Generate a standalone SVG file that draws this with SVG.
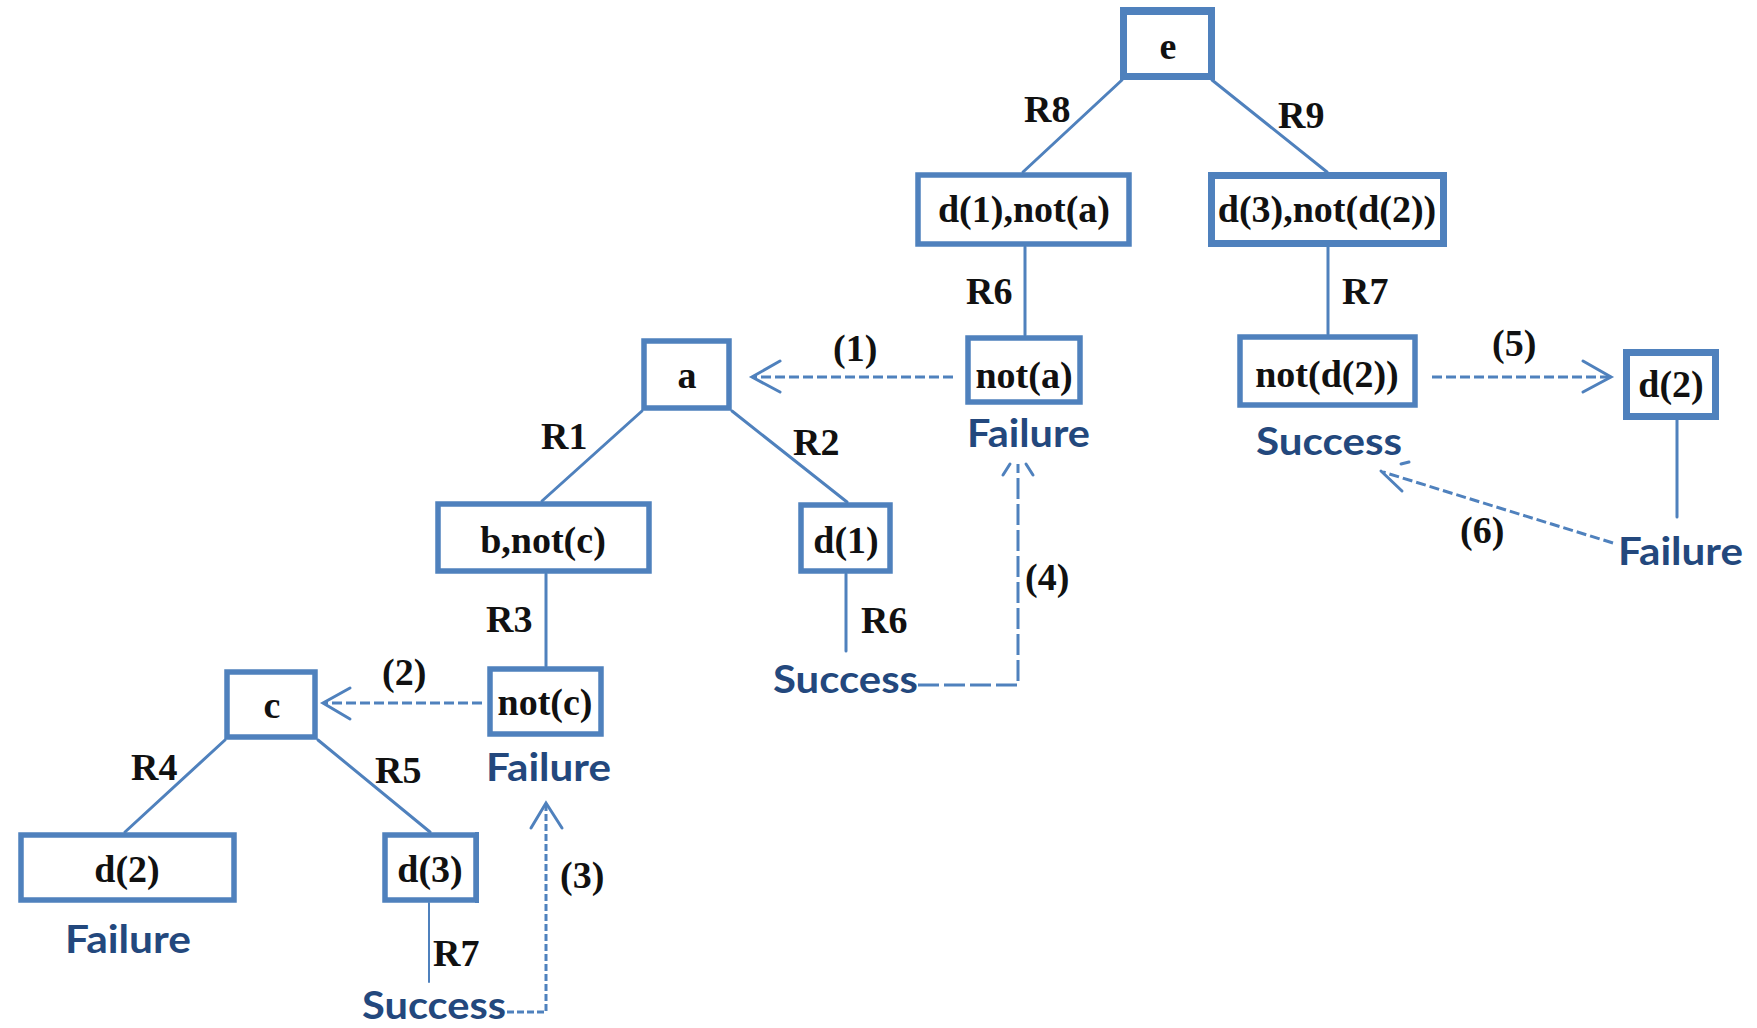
<svg xmlns="http://www.w3.org/2000/svg" width="1757" height="1028" viewBox="0 0 1757 1028">
  <style>
    .box { fill: #ffffff; stroke: #4f81bd; stroke-width: 5.5; }
    .box.thick { stroke-width: 7; }
    .t { font-family: "Liberation Serif", "Times New Roman", serif; font-weight: bold; font-size: 38px; fill: #111111; }
    .c { text-anchor: middle; }
    .res { font-family: Lato, "Open Sans", "Liberation Sans", sans-serif; font-weight: bold; font-size: 39px; fill: #23487d; }
    .edge { fill: none; stroke: #4f81bd; stroke-width: 3; stroke-linecap: round; }
    .dash { fill: none; stroke: #4f81bd; stroke-width: 3; stroke-dasharray: 10 4; }
    .head { fill: none; stroke: #4f81bd; stroke-width: 3; stroke-linecap: round; stroke-linejoin: miter; }
  </style>

  <rect width="1757" height="1028" fill="#ffffff"/>

  <!-- tree edges and backtracking arrows -->
  <g id="connectors">
    <line class="edge" x1="1122" y1="80" x2="1023" y2="172"/>
    <line class="edge" x1="1212" y1="80" x2="1327" y2="172"/>
    <line class="edge" x1="1025" y1="247" x2="1025" y2="335"/>
    <line class="edge" x1="1328" y1="247" x2="1328" y2="334"/>
    <line class="edge" x1="642" y1="411" x2="542" y2="501"/>
    <line class="edge" x1="732" y1="411" x2="847" y2="502"/>
    <line class="edge" x1="546" y1="574" x2="546" y2="666"/>
    <line class="edge" x1="846" y1="574" x2="846" y2="651"/>
    <line class="edge" x1="225" y1="740" x2="125" y2="832"/>
    <line class="edge" x1="318" y1="740" x2="430" y2="832"/>
    <line class="edge" x1="429" y1="903" x2="429" y2="982" style="stroke-width:2"/>
    <line class="edge" x1="1677" y1="420" x2="1677" y2="517"/>

    <!-- (1) not(a) to a -->
    <line class="dash" x1="953" y1="377" x2="754" y2="377"/>
    <polyline class="head" points="780,361 752,377 780,392"/>
    <!-- (2) not(c) to c -->
    <line class="dash" x1="482" y1="703" x2="325" y2="703"/>
    <polyline class="head" points="350,688 323,703 350,719"/>
    <!-- (3) Success back to not(c) -->
    <path class="dash" d="M507,1012 H546 V806" style="stroke-dasharray:7 3"/>
    <polyline class="head" points="531,828 546,803 562,828"/>
    <!-- (4) Success back to not(a) -->
    <path class="dash" d="M918,685 H1018 V464" style="stroke-dasharray:21 5"/>
    <line class="head" x1="1010" y1="464" x2="1003" y2="475"/>
    <line class="head" x1="1026" y1="464" x2="1033" y2="475"/>
    <!-- (5) not(d(2)) to d(2) -->
    <line class="dash" x1="1432" y1="377" x2="1609" y2="377"/>
    <polyline class="head" points="1583,361 1611,377 1583,392"/>
    <!-- (6) Failure back to not(d(2)) -->
    <line class="dash" x1="1613" y1="543" x2="1383" y2="472"/>
    <line class="head" x1="1381" y1="471" x2="1402" y2="491"/>
    <line class="head" x1="1401" y1="464" x2="1409" y2="462"/>
  </g>

  <!-- nodes -->
  <g id="node-e">
    <rect class="box thick" x="1123.5" y="10.5" width="88" height="66"/>
    <line x1="1120" y1="11" x2="1215" y2="11" stroke="#4f81bd" stroke-width="8"/>
    <text class="t c" x="1168" y="59">e</text>
  </g>
  <g id="node-d1-nota">
    <rect class="box" x="918" y="175" width="211" height="69"/>
    <text class="t c" x="1024" y="222">d(1),not(a)</text>
  </g>
  <g id="node-d3-notd2">
    <rect class="box thick" x="1211.5" y="175.5" width="232" height="68"/>
    <text class="t c" x="1327" y="222">d(3),not(d(2))</text>
  </g>
  <g id="node-nota">
    <rect class="box" x="968" y="338" width="112" height="64"/>
    <text class="t c" x="1024" y="388">not(a)</text>
  </g>
  <g id="node-notd2">
    <rect class="box" x="1240" y="337" width="175" height="68"/>
    <text class="t c" x="1327" y="387">not(d(2))</text>
  </g>
  <g id="node-a">
    <rect class="box" x="644" y="341" width="85" height="67"/>
    <text class="t c" x="687" y="388">a</text>
  </g>
  <g id="node-d2-right">
    <rect class="box thick" x="1626.5" y="352.5" width="89" height="64"/>
    <text class="t c" x="1671" y="397">d(2)</text>
  </g>
  <g id="node-b-notc">
    <rect class="box" x="438" y="504" width="211" height="67"/>
    <text class="t c" x="543" y="553">b,not(c)</text>
  </g>
  <g id="node-d1">
    <rect class="box" x="801" y="505" width="89" height="66"/>
    <text class="t c" x="846" y="553">d(1)</text>
  </g>
  <g id="node-c">
    <rect class="box" x="227" y="672" width="88" height="65"/>
    <text class="t c" x="272" y="718">c</text>
  </g>
  <g id="node-notc">
    <rect class="box" x="490" y="669" width="111" height="65"/>
    <text class="t c" x="545" y="715">not(c)</text>
  </g>
  <g id="node-d2-left">
    <rect class="box" x="21" y="835" width="213" height="65"/>
    <text class="t c" x="127" y="882">d(2)</text>
  </g>
  <g id="node-d3">
    <rect class="box" x="385" y="835" width="91" height="65"/>
    <line x1="477" y1="832" x2="477" y2="903" stroke="#4f81bd" stroke-width="4"/>
    <text class="t c" x="430" y="882">d(3)</text>
  </g>

  <!-- rule labels -->
  <g id="rule-labels">
    <text class="t" x="1024" y="122">R8</text>
    <text class="t" x="1278" y="128">R9</text>
    <text class="t" x="966" y="304">R6</text>
    <text class="t" x="1342" y="304">R7</text>
    <text class="t" x="541" y="449">R1</text>
    <text class="t" x="793" y="455">R2</text>
    <text class="t" x="486" y="632">R3</text>
    <text class="t" x="861" y="633">R6</text>
    <text class="t" x="131" y="780">R4</text>
    <text class="t" x="375" y="783">R5</text>
    <text class="t" x="433" y="966">R7</text>
  </g>

  <!-- step numbers -->
  <g id="step-labels">
    <text class="t" x="833" y="361">(1)</text>
    <text class="t" x="382" y="685">(2)</text>
    <text class="t" x="560" y="888">(3)</text>
    <text class="t" x="1025" y="590">(4)</text>
    <text class="t" x="1492" y="356">(5)</text>
    <text class="t" x="1460" y="543">(6)</text>
  </g>

  <!-- outcomes -->
  <g id="outcomes">
    <text class="res" x="967" y="447" textLength="123" lengthAdjust="spacingAndGlyphs">Failure</text>
    <text class="res" x="1256" y="455" textLength="146" lengthAdjust="spacingAndGlyphs">Success</text>
    <text class="res" x="1618" y="565" textLength="125" lengthAdjust="spacingAndGlyphs">Failure</text>
    <text class="res" x="773" y="693" textLength="145" lengthAdjust="spacingAndGlyphs">Success</text>
    <text class="res" x="486" y="781" textLength="125" lengthAdjust="spacingAndGlyphs">Failure</text>
    <text class="res" x="65" y="953" textLength="126" lengthAdjust="spacingAndGlyphs">Failure</text>
    <text class="res" x="362" y="1019" textLength="144" lengthAdjust="spacingAndGlyphs">Success</text>
  </g>
</svg>
